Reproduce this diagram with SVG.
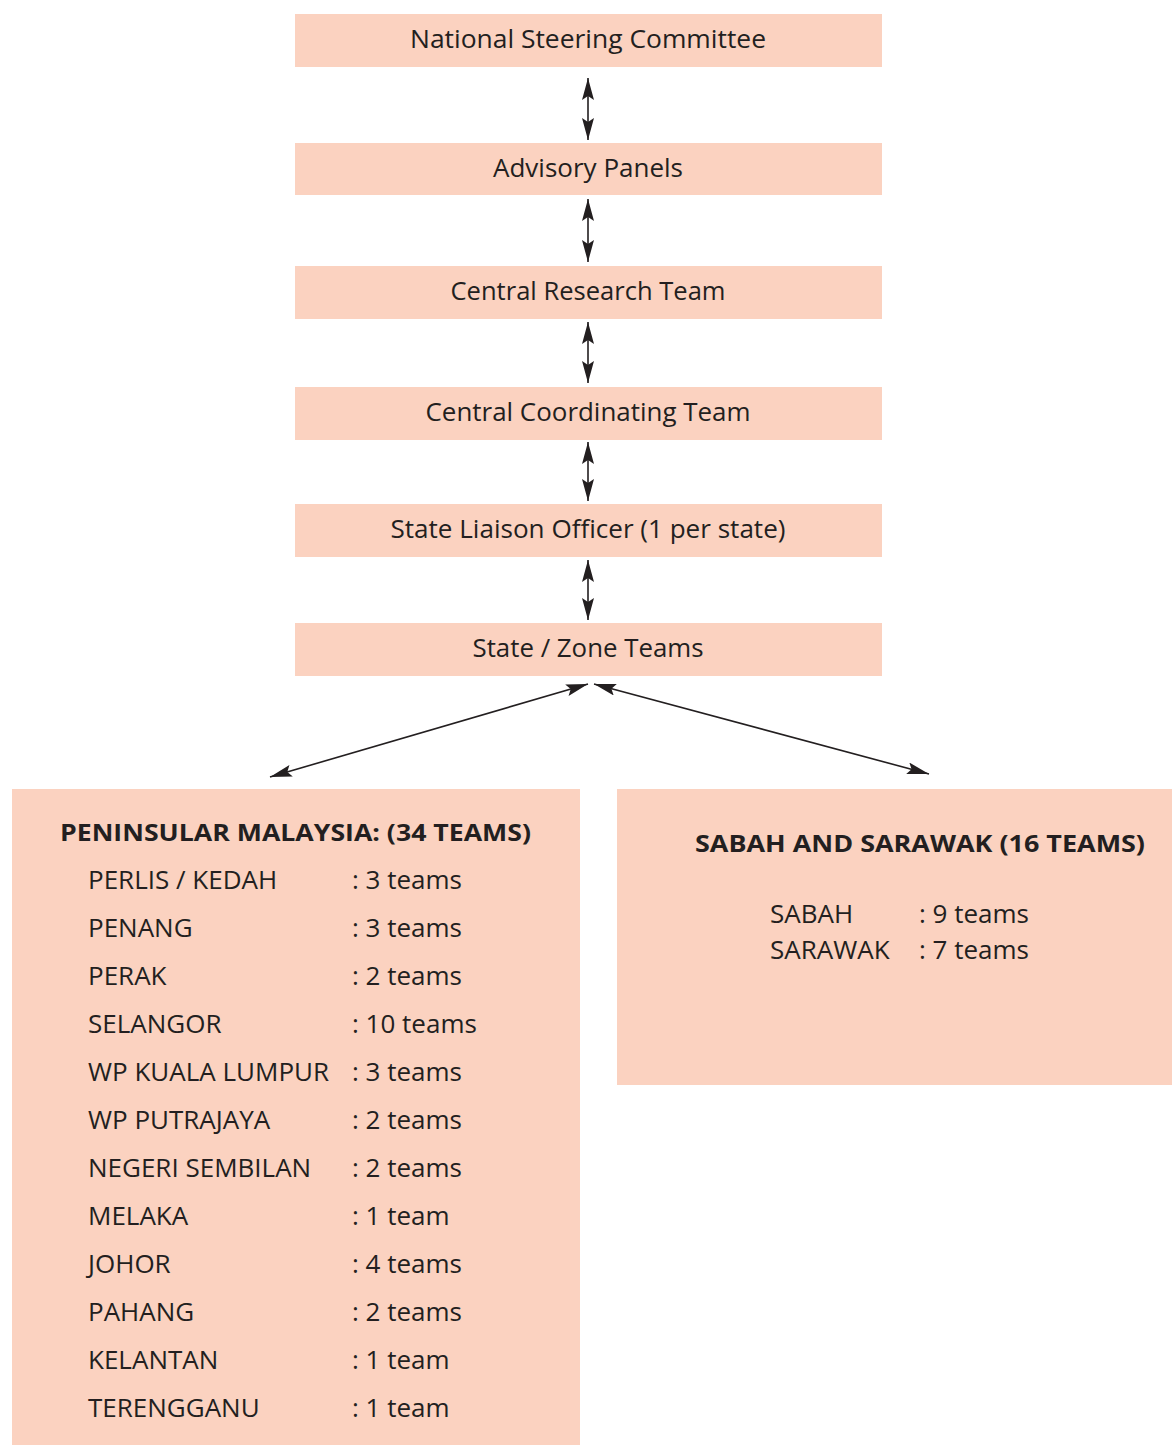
<svg xmlns="http://www.w3.org/2000/svg" width="1172" height="1445" viewBox="0 0 1172 1445">
<style>
.box{fill:#FBD2C0}
.t{font-family:"Open Sans","Noto Sans",sans-serif;font-size:25px;fill:#231f20;text-anchor:middle}
.h{font-family:"Open Sans","Noto Sans",sans-serif;font-size:23px;font-weight:bold;fill:#231f20}
.i{font-family:"Open Sans","Noto Sans",sans-serif;font-size:26px;fill:#231f20}
.c{stroke:#231f20;stroke-width:1.6;fill:none;marker-start:url(#ah);marker-end:url(#ah)}
</style>
<defs>
<marker id="ah" viewBox="0 0 22 12" refX="22" refY="6" markerWidth="22" markerHeight="12" markerUnits="userSpaceOnUse" orient="auto-start-reverse">
<path d="M0,0 L22,6 L0,12 L4,6 Z" fill="#231f20"/>
</marker>
</defs>
<rect width="1172" height="1445" fill="#fff"/>
<g id="n1"><rect class="box" x="295" y="14" width="587" height="53"/><text class="t" x="588" y="48" textLength="356" lengthAdjust="spacingAndGlyphs">National Steering Committee</text></g>
<g id="n2"><rect class="box" x="295" y="143" width="587" height="52"/><text class="t" x="588" y="177" textLength="190" lengthAdjust="spacingAndGlyphs">Advisory Panels</text></g>
<g id="n3"><rect class="box" x="295" y="266" width="587" height="53"/><text class="t" x="588" y="300" textLength="275" lengthAdjust="spacingAndGlyphs">Central Research Team</text></g>
<g id="n4"><rect class="box" x="295" y="387" width="587" height="53"/><text class="t" x="588" y="421" textLength="325" lengthAdjust="spacingAndGlyphs">Central Coordinating Team</text></g>
<g id="n5"><rect class="box" x="295" y="504" width="587" height="53"/><text class="t" x="588" y="538" textLength="395" lengthAdjust="spacingAndGlyphs">State Liaison Officer (1 per state)</text></g>
<g id="n6"><rect class="box" x="295" y="623" width="587" height="53"/><text class="t" x="588" y="657" textLength="231" lengthAdjust="spacingAndGlyphs">State / Zone Teams</text></g>
<g id="n7">
<rect class="box" x="12" y="789" width="568" height="656"/>
<text class="h" x="60" y="841" textLength="471" lengthAdjust="spacingAndGlyphs">PENINSULAR MALAYSIA: (34 TEAMS)</text>
<g class="i">
<text x="88" y="889">PERLIS / KEDAH</text><text x="352" y="889">: 3 teams</text>
<text x="88" y="937">PENANG</text><text x="352" y="937">: 3 teams</text>
<text x="88" y="985">PERAK</text><text x="352" y="985">: 2 teams</text>
<text x="88" y="1033">SELANGOR</text><text x="352" y="1033">: 10 teams</text>
<text x="88" y="1081">WP KUALA LUMPUR</text><text x="352" y="1081">: 3 teams</text>
<text x="88" y="1129">WP PUTRAJAYA</text><text x="352" y="1129">: 2 teams</text>
<text x="88" y="1177">NEGERI SEMBILAN</text><text x="352" y="1177">: 2 teams</text>
<text x="88" y="1225">MELAKA</text><text x="352" y="1225">: 1 team</text>
<text x="88" y="1273">JOHOR</text><text x="352" y="1273">: 4 teams</text>
<text x="88" y="1321">PAHANG</text><text x="352" y="1321">: 2 teams</text>
<text x="88" y="1369">KELANTAN</text><text x="352" y="1369">: 1 team</text>
<text x="88" y="1417">TERENGGANU</text><text x="352" y="1417">: 1 team</text>
</g>
</g>
<g id="n8">
<rect class="box" x="617" y="789" width="555" height="296"/>
<text class="h" x="695" y="852" textLength="450" lengthAdjust="spacingAndGlyphs">SABAH AND SARAWAK (16 TEAMS)</text>
<g class="i">
<text x="770" y="923">SABAH</text><text x="919" y="923">: 9 teams</text>
<text x="770" y="959">SARAWAK</text><text x="919" y="959">: 7 teams</text>
</g>
</g>
<g id="connectors">
<line class="c" x1="588" y1="78" x2="588" y2="140"/>
<line class="c" x1="588" y1="199" x2="588" y2="262"/>
<line class="c" x1="588" y1="322" x2="588" y2="383"/>
<line class="c" x1="588" y1="442" x2="588" y2="501"/>
<line class="c" x1="588" y1="560" x2="588" y2="620"/>
<line class="c" x1="588" y1="684" x2="270" y2="777"/>
<line class="c" x1="594" y1="684" x2="929" y2="774"/>
</g>
</svg>
